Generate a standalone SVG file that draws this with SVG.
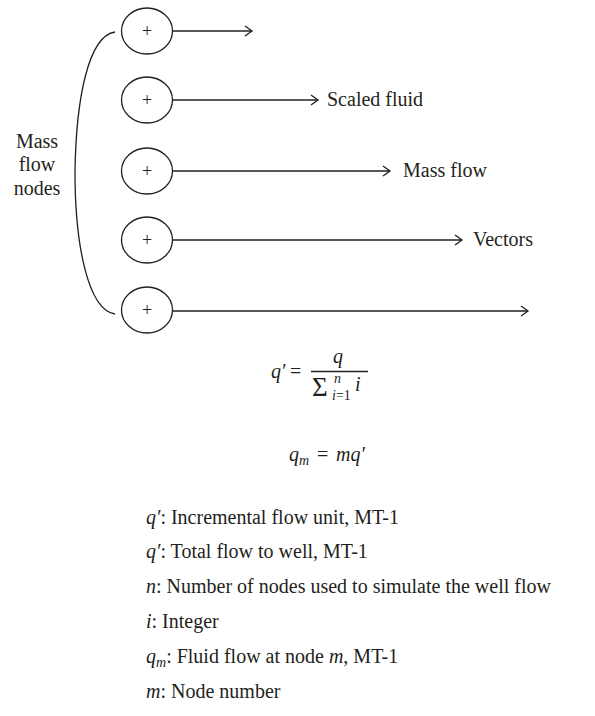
<svg xmlns="http://www.w3.org/2000/svg" width="595" height="716" viewBox="0 0 595 716">
<style>
text{font-family:"Liberation Serif","Times New Roman",serif;font-size:20px;fill:#231f20}
.it{font-style:italic}
.sm{font-size:14px}
.sub{font-size:14px}
.sig{font-size:27px}
.node ellipse{fill:#fff;stroke:#231f20;stroke-width:1.3}
.node text{font-size:18px}
.conn line,.conn path{stroke:#231f20;stroke-width:1.3;fill:none}
</style>
<defs>
<marker id="ah" markerUnits="userSpaceOnUse" markerWidth="12" markerHeight="12" refX="8" refY="6" orient="auto">
<path d="M1,1 L8,6 L1,11" fill="none" stroke="#231f20" stroke-width="1.3"/>
</marker>
</defs>
<g class="conn">
<path d="M115,32 C88,36 76,100 75,172 C75,245 88,310 115,314"/>
<line x1="173" y1="31" x2="252" y2="31" marker-end="url(#ah)"/>
<line x1="173" y1="100" x2="318" y2="100" marker-end="url(#ah)"/>
<line x1="173" y1="171" x2="390" y2="171" marker-end="url(#ah)"/>
<line x1="173" y1="240" x2="462" y2="240" marker-end="url(#ah)"/>
<line x1="173" y1="311" x2="528" y2="311" marker-end="url(#ah)"/>
</g>
<g id="node1" class="node"><ellipse cx="147" cy="31" rx="25.5" ry="23"/><text x="147" y="37" text-anchor="middle">+</text></g>
<g id="node2" class="node"><ellipse cx="147" cy="100" rx="25.5" ry="23"/><text x="147" y="106" text-anchor="middle">+</text></g>
<g id="node3" class="node"><ellipse cx="147" cy="171" rx="25.5" ry="23"/><text x="147" y="177" text-anchor="middle">+</text></g>
<g id="node4" class="node"><ellipse cx="147" cy="240" rx="25.5" ry="23"/><text x="147" y="246" text-anchor="middle">+</text></g>
<g id="node5" class="node"><ellipse cx="147" cy="310" rx="25.5" ry="23"/><text x="147" y="316" text-anchor="middle">+</text></g>
<g id="labels">
<text x="37" y="148" text-anchor="middle">Mass</text>
<text x="37" y="171" text-anchor="middle">flow</text>
<text x="37" y="195" text-anchor="middle">nodes</text>
<text x="327" y="106">Scaled fluid</text>
<text x="403" y="177">Mass flow</text>
<text x="473" y="246">Vectors</text>
</g>
<g id="formula1">
<text x="271" y="378" class="it">q′</text>
<text x="290" y="378">=</text>
<text x="333" y="363" class="it">q</text>
<line x1="311" y1="371.5" x2="368" y2="371.5" stroke="#231f20" stroke-width="1.5"/>
<text x="312" y="396" class="sig">Σ</text>
<text x="334" y="383" class="sm it">n</text>
<text x="332" y="400" class="sm"><tspan class="it">i</tspan>=1</text>
<text x="355" y="391" class="it">i</text>
</g>
<g id="formula2">
<text x="289" y="461" class="it">q</text>
<text x="299" y="465" class="sub it">m</text>
<text x="317" y="461">=</text>
<text x="336" y="461" class="it">mq′</text>
</g>
<g id="legend">
<text x="146" y="524"><tspan class="it">q′</tspan>: Incremental flow unit, MT-1</text>
<text x="146" y="558"><tspan class="it">q′</tspan>: Total flow to well, MT-1</text>
<text x="146" y="593"><tspan class="it">n</tspan>: Number of nodes used to simulate the well flow</text>
<text x="146" y="628"><tspan class="it">i</tspan>: Integer</text>
<text x="146" y="663"><tspan class="it">q</tspan><tspan class="sub it" dy="4">m</tspan><tspan dy="-4">: Fluid flow at node </tspan><tspan class="it">m</tspan>, MT-1</text>
<text x="146" y="698"><tspan class="it">m</tspan>: Node number</text>
</g>
</svg>
